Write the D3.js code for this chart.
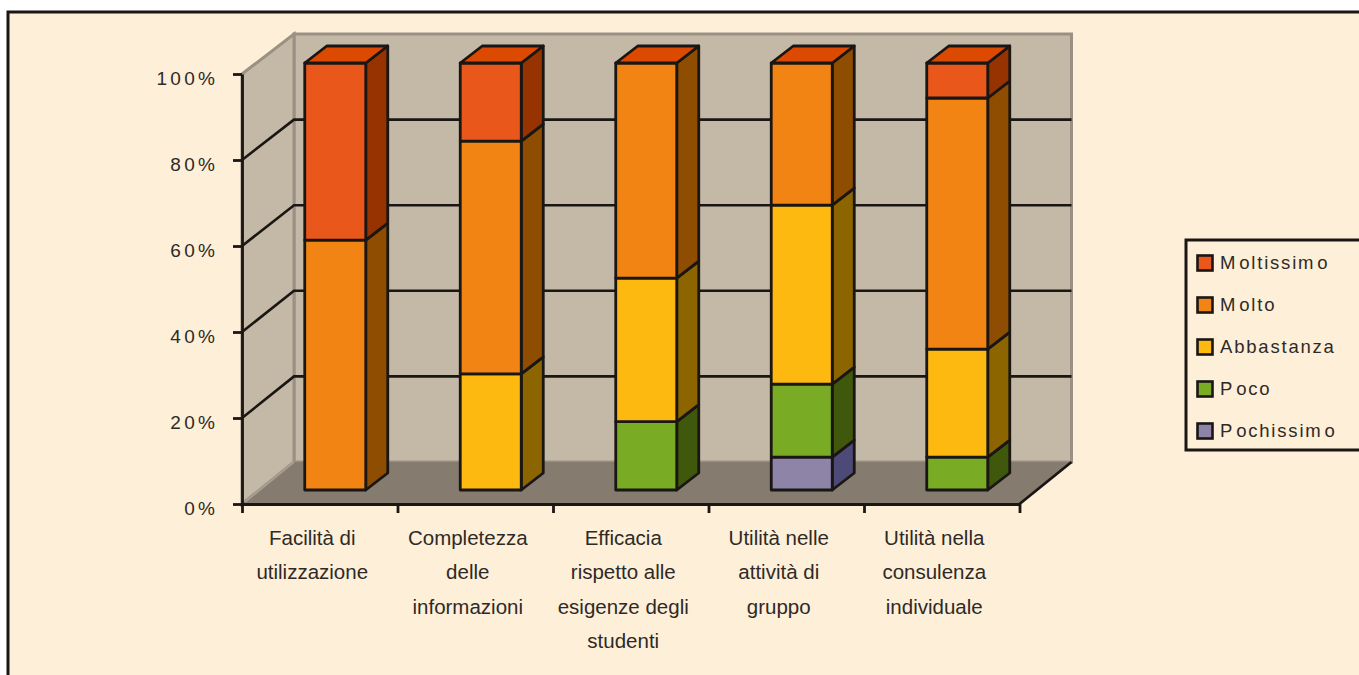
<!DOCTYPE html>
<html lang="it">
<head>
<meta charset="utf-8">
<title>Valutazione</title>
<style>
  html, body { margin: 0; padding: 0; background: #fff; }
  svg { display: block; }
  text { font-family: "Liberation Sans", Arial, sans-serif; fill: #2e2a26; }
</style>
<script src="https://cdn.jsdelivr.net/npm/d3@7/dist/d3.min.js"></script>
</head>
<body>
<svg id="chart" width="1359" height="675"></svg>
<script>
// Survey answers per aspect, as percentage shares stacked from the bottom.
const aspects = [
  ["Facilità di", "utilizzazione"],
  ["Completezza", "delle", "informazioni"],
  ["Efficacia", "rispetto alle", "esigenze degli", "studenti"],
  ["Utilità nelle", "attività di", "gruppo"],
  ["Utilità nella", "consulenza", "individuale"]
];
const pochissimo = [0, 0, 0, 7.7, 0];
const poco = [0, 0, 16, 17.1, 7.7];
const abbastanza = [0, 27.2, 33.6, 41.9, 25.3];
const molto = [58.5, 54.5, 50.4, 33.3, 58.8];
const moltissimo = [41.5, 18.3, 0, 0, 8.2];

const seriesValues = [pochissimo, poco, abbastanza, molto, moltissimo];
const legendOrder = ["Moltissimo", "Molto", "Abbastanza", "Poco", "Pochissimo"];
const percentTicks = [0, 20, 40, 60, 80, 100];

// front and side tints of each series; every bar is capped with the same lid tint
const palette = [
  { front: "#8d84a8", side: "#4e4a78" },
  { front: "#79ab25", side: "#3f580c" },
  { front: "#fdb90f", side: "#8c6500" },
  { front: "#f28413", side: "#8e4d00" },
  { front: "#ea571b", side: "#963300" }
];
const lidTint = "#dc4a02";
const legendPalette = [palette[4], palette[3], palette[2], palette[1], palette[0]];
const inkColor = "#1a1614";

const svg = d3.select("#chart");

// page ground and outer frame
svg.append("rect").attr("width", 1359).attr("height", 675).attr("fill", "#fff");
svg.append("rect").attr("x", 8).attr("y", 12).attr("width", 1400).attr("height", 700)
  .attr("fill", "#feefd9").attr("stroke", inkColor).attr("stroke-width", 3);

// projection of the 3D box: the front plane plus a depth offset
const frontLeft = 242, frontRight = 1019.5, frontBottom = 504, frontTop = 74;
const depthX = 52, depthY = -41;
const x = d3.scaleBand().domain(d3.range(aspects.length)).range([frontLeft, frontRight]);
const yFront = d3.scaleLinear().domain([0, 100]).range([frontBottom, frontTop]);
const yBack = d3.scaleLinear().domain([0, 100]).range([frontBottom + depthY - 1, frontTop + depthY + 1]);
const yBar = d3.scaleLinear().domain([0, 100]).range([490, 63]);

const pts = a => a.map(p => p.join(",")).join(" ");
const chartLayer = svg.append("g");

// back wall
chartLayer.append("polygon")
  .attr("points", pts([[frontLeft + depthX, yBack(100)], [frontRight + depthX, yBack(100)],
                       [frontRight + depthX, yBack(0)], [frontLeft + depthX, yBack(0)]]))
  .attr("fill", "#c4b8a6").attr("stroke", "#9a9084").attr("stroke-width", 3);
// left wall
chartLayer.append("polygon")
  .attr("points", pts([[frontLeft, yFront(100)], [frontLeft + depthX, yBack(100)],
                       [frontLeft + depthX, yBack(0)], [frontLeft, yFront(0)]]))
  .attr("fill", "#c4b8a6").attr("stroke", "#9a9084").attr("stroke-width", 3);
// floor
chartLayer.append("polygon")
  .attr("points", pts([[frontLeft, yFront(0)], [frontLeft + depthX, yBack(0)],
                       [frontRight + depthX, yBack(0)], [frontRight, yFront(0)]]))
  .attr("fill", "#857b6e");
chartLayer.append("line")
  .attr("x1", frontLeft + 3).attr("y1", yFront(0) - 2)
  .attr("x2", frontLeft + depthX).attr("y2", yBack(0))
  .attr("stroke", "#a89e90").attr("stroke-width", 2);

// gridlines run along the left wall and then across the back wall
const grid = percentTicks.filter(t => t > 0 && t < 100);
chartLayer.selectAll("path.grid").data(grid).join("path")
  .attr("class", "grid").attr("fill", "none")
  .attr("stroke", inkColor).attr("stroke-width", 2.6)
  .attr("d", t => d3.line()([[frontLeft, yFront(t)], [frontLeft + depthX, yBack(t)], [frontRight + depthX, yBack(t)]]));

// floor edge on the right side
chartLayer.append("line")
  .attr("x1", frontRight).attr("y1", yFront(0))
  .attr("x2", frontRight + depthX).attr("y2", yBack(0))
  .attr("stroke", inkColor).attr("stroke-width", 2.8);

// axes
const styleAxis = g => {
  g.select(".domain").attr("stroke", inkColor).attr("stroke-width", 2.8);
  g.selectAll(".tick line").attr("stroke", inkColor).attr("stroke-width", 2.8);
};
const yAxis = d3.axisLeft(yFront).tickValues(percentTicks).tickFormat(d => d + "%").tickSize(9).tickSizeOuter(0);
svg.append("g").attr("transform", `translate(${frontLeft},0)`).call(yAxis).call(styleAxis)
  .call(g => g.selectAll("text")
    .attr("x", -24).attr("dy", "0.55em")
    .style("font-size", "19px").style("letter-spacing", "3.2px")
    .style("font-family", "'Liberation Sans', Arial, sans-serif").style("fill", "#2e2a26"));

const xEdge = d3.scaleLinear().domain([0, aspects.length]).range([frontLeft, frontRight]);
const xAxis = d3.axisBottom(xEdge).tickValues(d3.range(aspects.length + 1)).tickFormat("").tickSize(9).tickSizeOuter(0);
svg.append("g").attr("transform", `translate(0,${frontBottom})`).call(xAxis).call(styleAxis);

// stacked bars, drawn bottom to top so each upper block overlaps the seam
const barWidth = 61, barDepthX = 22, barDepthY = -17;
const barLeft = i => x(i) + (x.bandwidth() - barWidth) / 2 + 15.5;
const ink = sel => sel.attr("stroke", inkColor).attr("stroke-width", 2.8).attr("stroke-linejoin", "round");

aspects.forEach((_, i) => {
  let base = 0;
  const bar = chartLayer.append("g");
  const filled = seriesValues.map((vals, s) => ({ s, v: vals[i] })).filter(d => d.v > 0);
  filled.forEach((d, n) => {
    const x0 = barLeft(i), x1 = x0 + barWidth;
    const y0 = yBar(base), y1 = yBar(base + d.v);
    const c = palette[d.s];
    ink(bar.append("polygon")
      .attr("points", pts([[x1, y0], [x1 + barDepthX, y0 + barDepthY], [x1 + barDepthX, y1 + barDepthY], [x1, y1]]))
      .attr("fill", c.side));
    ink(bar.append("polygon")
      .attr("points", pts([[x0, y0], [x1, y0], [x1, y1], [x0, y1]]))
      .attr("fill", c.front));
    if (n === filled.length - 1) {
      ink(bar.append("polygon")
        .attr("points", pts([[x0, y1], [x1, y1], [x1 + barDepthX, y1 + barDepthY], [x0 + barDepthX, y1 + barDepthY]]))
        .attr("fill", lidTint));
    }
    base += d.v;
  });
});

// category labels, one text line per row
aspects.forEach((lines, i) => {
  const t = svg.append("text").attr("text-anchor", "middle").style("font-size", "20.5px");
  lines.forEach((line, n) => {
    t.append("tspan").attr("x", x(i) + x.bandwidth() / 2 - 7.5).attr("y", 545 + n * 34.3).text(line);
  });
});

// legend; the wide gaps after a capital and before a closing "o" are kept with small offsets
const legend = svg.append("g");
legend.append("rect").attr("x", 1186).attr("y", 240).attr("width", 190).attr("height", 210)
  .attr("fill", "#feefd9").attr("stroke", inkColor).attr("stroke-width", 3);
const legendY = d3.scalePoint().domain(legendOrder).range([263, 431]);
legendOrder.forEach((name, k) => {
  legend.append("rect").attr("x", 1197.5).attr("y", legendY(name) - 7.5)
    .attr("width", 15).attr("height", 15)
    .attr("fill", legendPalette[k].front).attr("stroke", inkColor).attr("stroke-width", 2.6);
  const label = legend.append("text").attr("x", 1220).attr("y", legendY(name) + 6)
    .style("font-size", "18.5px").style("letter-spacing", "1.8px");
  name.split(/(?<=^[MP])|(?<=m)(?=o$)/).forEach((part, j) => {
    label.append("tspan").attr("dx", j > 0 ? 2 : 0).text(part);
  });
});
</script>
</body>
</html>
